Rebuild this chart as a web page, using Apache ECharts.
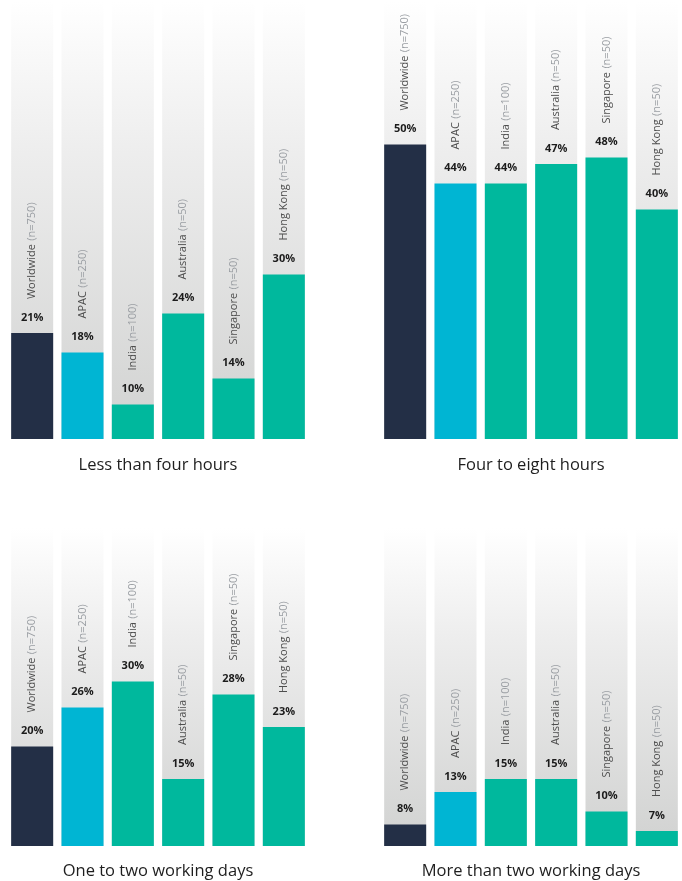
<!DOCTYPE html>
<html>
<head>
<meta charset="utf-8">
<style>
  html, body { margin: 0; padding: 0; background: #ffffff; }
  #chart { width: 682px; height: 881px; }
</style>
<script src="https://cdn.jsdelivr.net/npm/echarts@6/dist/echarts.min.js"></script>
</head>
<body>
<div id="chart"></div>
<script>
// Regions surveyed and their sample sizes
const regions = ['Worldwide', 'APAC', 'India', 'Australia', 'Singapore', 'Hong Kong'];
const sampleSizes = ['n=750', 'n=250', 'n=100', 'n=50', 'n=50', 'n=50'];

// Share of respondents (%) per response-time bucket
const lessThanFourHours = [21, 18, 10, 24, 14, 30];
const fourToEightHours = [50, 44, 44, 47, 48, 40];
const oneToTwoWorkingDays = [20, 26, 30, 15, 28, 23];
const moreThanTwoWorkingDays = [8, 13, 15, 15, 10, 7];

const panelTitles = [
  'Less than four hours',
  'Four to eight hours',
  'One to two working days',
  'More than two working days'
];
const panelValues = [lessThanFourHours, fourToEightHours, oneToTwoWorkingDays, moreThanTwoWorkingDays];

// Layout and styling
const regionColors = ['#232f46', '#00b5d3', '#00b89d', '#00b89d', '#00b89d', '#00b89d'];
const FONT = '"Open Sans", Lato, sans-serif';
const panelBoxes = [
  { left: 7,   top: 1,   height: 438, max: 72.1, gap: 26 },
  { left: 380, top: 1,   height: 438, max: 72.1, gap: 26 },
  { left: 7,   top: 528, height: 318, max: 53.6, gap: 25 },
  { left: 380, top: 528, height: 318, max: 53.6, gap: 25 }
];
const AXIS_MIN = 4.7;

const grids = [], xAxes = [], yAxes = [], series = [];

panelBoxes.forEach((box, i) => {
  grids.push({ left: box.left, top: box.top, width: 302, height: box.height });
  xAxes.push({
    type: 'category',
    gridIndex: i,
    data: regions,
    axisLine: { show: false },
    axisTick: { show: false },
    axisLabel: { show: false },
    splitLine: { show: false },
    name: panelTitles[i],
    nameLocation: 'middle',
    nameGap: box.gap,
    nameTextStyle: { fontFamily: FONT, fontSize: 16.5, color: '#1e1e1e', verticalAlign: 'middle' }
  });
  yAxes.push({
    type: 'value',
    gridIndex: i,
    min: AXIS_MIN,
    max: box.max,
    show: false,
    splitLine: { show: false }
  });

  // Coloured bars with gradient background columns and value labels
  series.push({
    type: 'bar',
    xAxisIndex: i,
    yAxisIndex: i,
    barWidth: 42,
    barGap: '-100%',
    clip: true,
    showBackground: true,
    backgroundStyle: {
      color: {
        type: 'linear', x: 0, y: 0, x2: 0, y2: 1,
        colorStops: [
          { offset: 0, color: '#ffffff' },
          { offset: 0.35, color: '#ededed' },
          { offset: 1, color: '#d1d2d1' }
        ]
      }
    },
    data: panelValues[i].map((v, k) => ({ value: v, itemStyle: { color: regionColors[k] } })),
    label: {
      show: true,
      position: 'top',
      distance: 10,
      formatter: p => p.value + '%',
      fontFamily: FONT,
      fontWeight: 'bold',
      fontSize: 11,
      color: '#1c1c1c'
    },
    animation: false
  });

  // Transparent twin carrying the rotated region labels
  series.push({
    type: 'bar',
    xAxisIndex: i,
    yAxisIndex: i,
    barWidth: 42,
    barGap: '-100%',
    clip: true,
    itemStyle: { color: 'rgba(0,0,0,0)' },
    data: panelValues[i].slice(),
    label: {
      show: true,
      position: 'top',
      distance: 34,
      rotate: 90,
      align: 'left',
      verticalAlign: 'middle',
      formatter: p => '{name|' + regions[p.dataIndex] + '} {n|(' + sampleSizes[p.dataIndex] + ')}',
      rich: {
        name: { fontFamily: FONT, fontSize: 11, color: '#4e4e4e' },
        n: { fontFamily: FONT, fontSize: 11, color: '#9a9ea3' }
      }
    },
    animation: false
  });
});

const chart = echarts.init(document.getElementById('chart'), null, { renderer: 'canvas' });
chart.setOption({
  backgroundColor: '#ffffff',
  animation: false,
  grid: grids,
  xAxis: xAxes,
  yAxis: yAxes,
  series: series
});
</script>
</body>
</html>
